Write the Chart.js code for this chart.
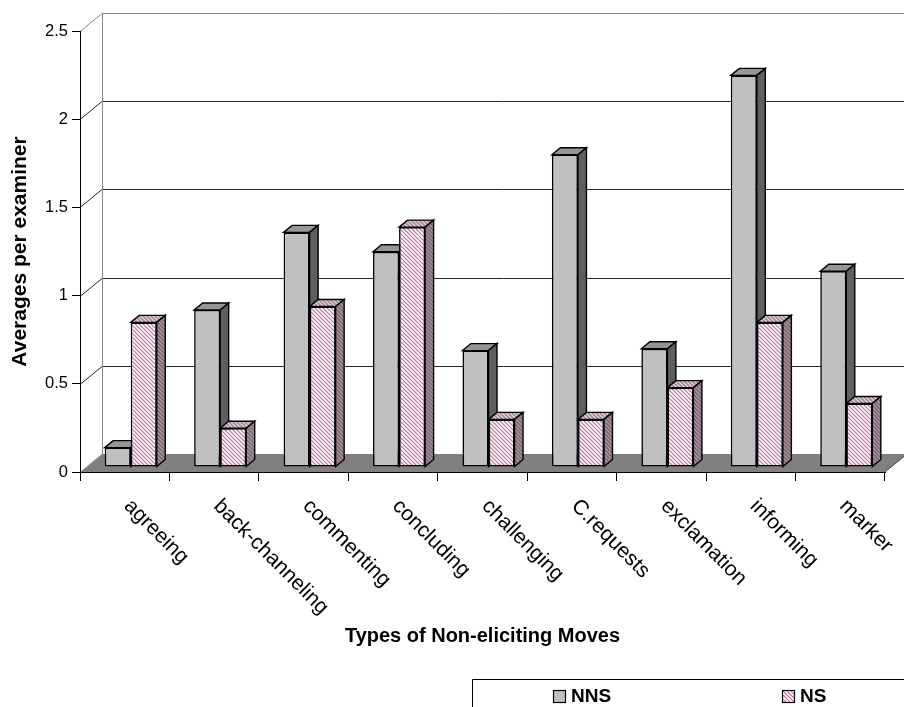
<!DOCTYPE html>
<html>
<head>
<meta charset="utf-8">
<script src="https://cdn.jsdelivr.net/npm/chart.js@4/dist/chart.umd.min.js"></script>
<style>
  html, body { margin: 0; padding: 0; background: #fff; }
  canvas { display: block; }
</style>
</head>
<body>
<canvas id="c" width="904" height="707"></canvas>
<script>
// Average number of non-eliciting moves per examiner, by move type
const categories = ['agreeing', 'back-channeling', 'commenting', 'concluding', 'challenging',
                    'C.requests', 'exclamation', 'informing', 'marker'];
const nnsValues = [0.11, 0.89, 1.33, 1.22, 0.66, 1.77, 0.67, 2.22, 1.11];
const nsValues  = [0.82, 0.22, 0.91, 1.36, 0.27, 0.27, 0.45, 0.82, 0.36];
const seriesNames = ['NNS', 'NS'];
const yTicks = [0, 0.5, 1, 1.5, 2, 2.5];
const yTickLabels = ['0', '0.5', '1', '1.5', '2', '2.5'];
const xTitle = 'Types of Non-eliciting Moves';
const yTitle = 'Averages per examiner';

const FONT = '"Liberation Sans", Arial, Helvetica, sans-serif';

// pseudo-3D geometry: depth offset of the back wall, of the bar front plane, and bar thickness
const WALL = { dx: 22, dy: 18 };
const BAR_SHIFT = { dx: 6, dy: 5 };
const BAR_DEPTH = { dx: 8.5, dy: 7 };

const canvas = document.getElementById('c');
const ctx0 = canvas.getContext('2d');

// diagonal hatch used for the NS series
function stripes(bg, fg, lw) {
  const s = 4;
  const t = document.createElement('canvas');
  t.width = s; t.height = s;
  const g = t.getContext('2d');
  g.fillStyle = bg;
  g.fillRect(0, 0, s, s);
  g.strokeStyle = fg;
  g.lineWidth = lw;
  g.beginPath();
  for (let k = -1; k <= 1; k++) {
    g.moveTo(k * s - 1, -1);
    g.lineTo(k * s + s + 1, s + 1);
  }
  g.stroke();
  return ctx0.createPattern(t, 'repeat');
}

const nsFront = stripes('#ffffff', '#c4689a', 1.2);
const nsTop   = stripes('#d4d0d2', '#b06890', 1.2);
const nsSide  = stripes('#9a9a9a', '#8a4a6c', 1.2);

const faces = [
  { front: '#c0c0c0', top: '#969696', side: '#5f5f5f' },
  { front: nsFront, top: nsTop, side: nsSide }
];

const scene3d = {
  id: 'scene3d',
  beforeDraw(chart) {
    const { ctx, chartArea: a, scales: { y } } = chart;
    const L = a.left, R = a.right, B = a.bottom;
    ctx.save();
    ctx.fillStyle = '#ffffff';
    ctx.fillRect(0, 0, chart.width, chart.height);

    // floor
    ctx.fillStyle = '#808080';
    ctx.beginPath();
    ctx.moveTo(L, B);
    ctx.lineTo(R, B);
    ctx.lineTo(R + WALL.dx, B - WALL.dy);
    ctx.lineTo(L + WALL.dx, B - WALL.dy);
    ctx.closePath();
    ctx.fill();
    ctx.strokeStyle = '#4a4a4a';
    ctx.lineWidth = 1;
    ctx.beginPath();
    ctx.moveTo(R, B);
    ctx.lineTo(R + WALL.dx, B - WALL.dy);
    ctx.stroke();

    // gridlines across the side wall and the back wall
    const maxV = yTicks[yTicks.length - 1];
    yTicks.forEach(v => {
      if (v === 0) return;
      const py = Math.round(y.getPixelForValue(v)) + 0.5;
      ctx.strokeStyle = v === maxV ? '#8a8a8a' : '#262626';
      ctx.lineWidth = 1;
      ctx.beginPath();
      ctx.moveTo(L, py);
      ctx.lineTo(L + WALL.dx, py - WALL.dy);
      ctx.lineTo(chart.width + 30, py - WALL.dy);
      ctx.stroke();
    });

    // back wall left edge
    const topY = Math.round(y.getPixelForValue(maxV)) + 0.5 - WALL.dy;
    ctx.strokeStyle = '#8a8a8a';
    ctx.beginPath();
    ctx.moveTo(L + WALL.dx + 0.5, topY);
    ctx.lineTo(L + WALL.dx + 0.5, B - WALL.dy);
    ctx.stroke();
    ctx.restore();
  },
  beforeDatasetsDraw(chart) {
    const { ctx } = chart;
    ctx.save();
    ctx.translate(BAR_SHIFT.dx, -BAR_SHIFT.dy);
    const metas = [chart.getDatasetMeta(0), chart.getDatasetMeta(1)];
    ctx.lineWidth = 1.4;
    ctx.strokeStyle = '#000';
    ctx.lineJoin = 'miter';
    for (let i = 0; i < categories.length; i++) {
      metas.forEach((meta, d) => {
        const bar = meta.data[i];
        const { x, y, base, width } = bar.getProps(['x', 'y', 'base', 'width'], true);
        const l = x - width / 2, r = x + width / 2;
        const ddx = BAR_DEPTH.dx, ddy = BAR_DEPTH.dy;
        // top face
        ctx.fillStyle = faces[d].top;
        ctx.beginPath();
        ctx.moveTo(l, y);
        ctx.lineTo(l + ddx, y - ddy);
        ctx.lineTo(r + ddx, y - ddy);
        ctx.lineTo(r, y);
        ctx.closePath();
        ctx.fill();
        ctx.stroke();
        // side face
        ctx.fillStyle = faces[d].side;
        ctx.beginPath();
        ctx.moveTo(r, y);
        ctx.lineTo(r + ddx, y - ddy);
        ctx.lineTo(r + ddx, base - ddy);
        ctx.lineTo(r, base);
        ctx.closePath();
        ctx.fill();
        ctx.stroke();
      });
    }
  },
  afterDatasetsDraw(chart) {
    chart.ctx.restore();
  },
  afterDraw(chart) {
    const { ctx, scales: { x } } = chart;
    ctx.save();
    // category labels, slanted 45 degrees downward
    ctx.fillStyle = '#000';
    ctx.font = '21px ' + FONT;
    ctx.textAlign = 'left';
    ctx.textBaseline = 'alphabetic';
    categories.forEach((c, i) => {
      const px = x.getPixelForValue(i);
      ctx.save();
      ctx.translate(px - 1.5, 507);
      ctx.rotate(Math.PI / 4);
      ctx.fillText(c, 0, 0);
      ctx.restore();
    });

    // legend frame running off the lower right corner
    ctx.strokeStyle = '#000';
    ctx.lineWidth = 1;
    ctx.beginPath();
    ctx.moveTo(472.5, chart.height + 2);
    ctx.lineTo(472.5, 679.5);
    ctx.lineTo(chart.width + 2, 679.5);
    ctx.stroke();

    const items = [
      { x: 553, fill: faces[0].front },
      { x: 782, fill: faces[1].front }
    ];
    ctx.font = 'bold 19px ' + FONT;
    ctx.textBaseline = 'middle';
    items.forEach((it, k) => {
      ctx.fillStyle = it.fill;
      ctx.fillRect(it.x, 690, 13, 13);
      ctx.strokeStyle = '#000';
      ctx.lineWidth = 1.2;
      ctx.strokeRect(it.x + 0.5, 690.5, 12, 12);
      ctx.fillStyle = '#000';
      ctx.fillText(seriesNames[k], it.x + 18, 697);
    });
    ctx.restore();
  }
};

new Chart(canvas, {
  type: 'bar',
  data: {
    labels: categories,
    datasets: [
      { label: seriesNames[0], data: nnsValues, backgroundColor: faces[0].front },
      { label: seriesNames[1], data: nsValues, backgroundColor: faces[1].front }
    ]
  },
  options: {
    responsive: false,
    animation: false,
    devicePixelRatio: 1,
    layout: { padding: { top: 31, right: 19, left: 0, bottom: 0 } },
    datasets: {
      bar: {
        borderColor: '#000',
        borderWidth: 1.6,
        borderSkipped: false,
        categoryPercentage: 0.582,
        barPercentage: 1.0,
        clip: false
      }
    },
    plugins: {
      legend: { display: false },
      tooltip: { enabled: false }
    },
    scales: {
      x: {
        offset: true,
        grid: { offset: true, drawOnChartArea: false, drawTicks: true, tickLength: 9, color: '#000' },
        border: { display: true, color: '#000', width: 1 },
        ticks: { display: false },
        title: {
          display: true, text: xTitle, color: '#000',
          font: { family: FONT, size: 20, weight: 'bold' },
          padding: { top: 0, bottom: 59 }
        },
        afterFit(scale) { scale.height = 235; }
      },
      y: {
        min: 0,
        max: 2.5,
        afterBuildTicks(scale) { scale.ticks = yTicks.map(v => ({ value: v })); },
        grid: { drawOnChartArea: false, drawTicks: true, tickLength: 8, color: '#000' },
        border: { display: true, color: '#000', width: 1 },
        ticks: {
          color: '#000', font: { family: FONT, size: 16.5 }, padding: 4,
          callback: (v) => yTickLabels[yTicks.indexOf(v)]
        },
        title: {
          display: true, text: yTitle, color: '#000',
          font: { family: FONT, size: 21, weight: 'bold' },
          padding: { top: 8, bottom: 0 }
        },
        afterFit(scale) { scale.width = 80; }
      }
    }
  },
  plugins: [scene3d]
});
</script>
</body>
</html>
